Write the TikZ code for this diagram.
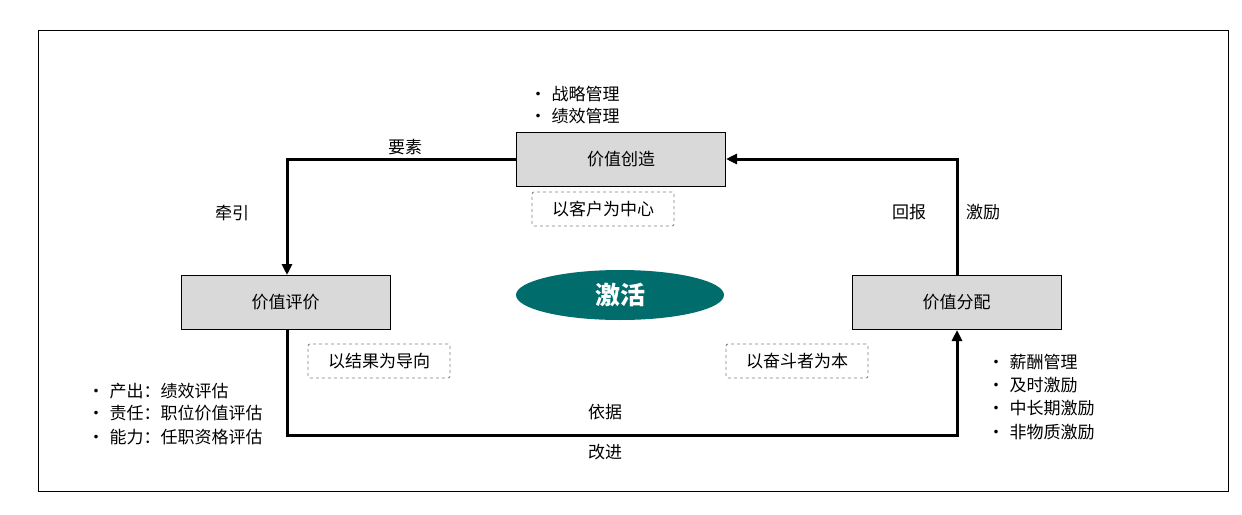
\documentclass[tikz,border=0pt]{standalone}
\usepackage{fontspec}
\setmainfont{Noto Sans CJK SC}
\usetikzlibrary{arrows.meta,shapes.geometric}
\begin{document}
\begin{tikzpicture}[x=1pt,y=-1pt,
 box/.style={draw=black,fill=gray!30,line width=1pt,minimum width=209pt,minimum height=54pt,font=\fontsize{17}{19}\selectfont},
 dbox/.style={draw=gray,dashed,line width=0.8pt,rounded corners=2pt,minimum width=142pt,minimum height=34pt,font=\fontsize{17}{19}\selectfont},
 lab/.style={font=\fontsize{17}{19}\selectfont},
 bl/.style={font=\fontsize{17}{19}\selectfont,anchor=west},
 conn/.style={line width=3pt,-{Triangle[length=11pt,width=10pt]}}]
\useasboundingbox (0,0) rectangle (1242,514);
\draw[line width=1pt] (38,30) rectangle (1228,491);
\node[box] (c) at (621,159.5) {价值创造};
\node[box] (e) at (285.5,302.5) {价值评价};
\node[box] (d) at (956.5,302.5) {价值分配};
\node[ellipse,fill=teal!85!black,minimum width=208pt,minimum height=50pt,text=white,font=\fontsize{25}{27}\selectfont\bfseries] (j) at (620,295) {激活};
\node[dbox] (k1) at (603,209) {以客户为中心};
\node[dbox] (k2) at (379,361) {以结果为导向};
\node[dbox] (k3) at (797,361) {以奋斗者为本};
\coordinate (p1) at (287,159);
\coordinate (p2) at (287,435);
\coordinate (p3) at (957,435);
\coordinate (p4) at (957,159);
\draw[conn] (c.west|-p1) -- (p1) -- (e.north-|p1);
\draw[conn] (e.south-|p2) -- (p2) -- (p3) -- (d.south-|p3);
\draw[conn] (d.north-|p4) -- (p4) -- (c.east|-p4);
\node[lab] (l1) at (405,147) {要素};
\node[lab] (l2) at (232,213) {牵引};
\node[lab] (l3) at (605,412) {依据};
\node[lab] (l4) at (605,452) {改进};
\node[lab] (l5) at (909,212) {回报};
\node[lab] (l6) at (983,212) {激励};
\foreach \t/\y [count=\i] in {战略管理/94,绩效管理/116}{
 \node[bl] (ta\i) at (526,\y) {\makebox[22pt][l]{•}\t};}
\foreach \t/\y [count=\i] in {产出：绩效评估/391,责任：职位价值评估/413,能力：任职资格评估/437}{
 \node[bl] (tb\i) at (84,\y) {\makebox[22pt][l]{•}\t};}
\foreach \t/\y [count=\i] in {薪酬管理/362,及时激励/385,中长期激励/408,非物质激励/432}{
 \node[bl] (tc\i) at (984,\y) {\makebox[22pt][l]{•}\t};}
\end{tikzpicture}
\end{document}
